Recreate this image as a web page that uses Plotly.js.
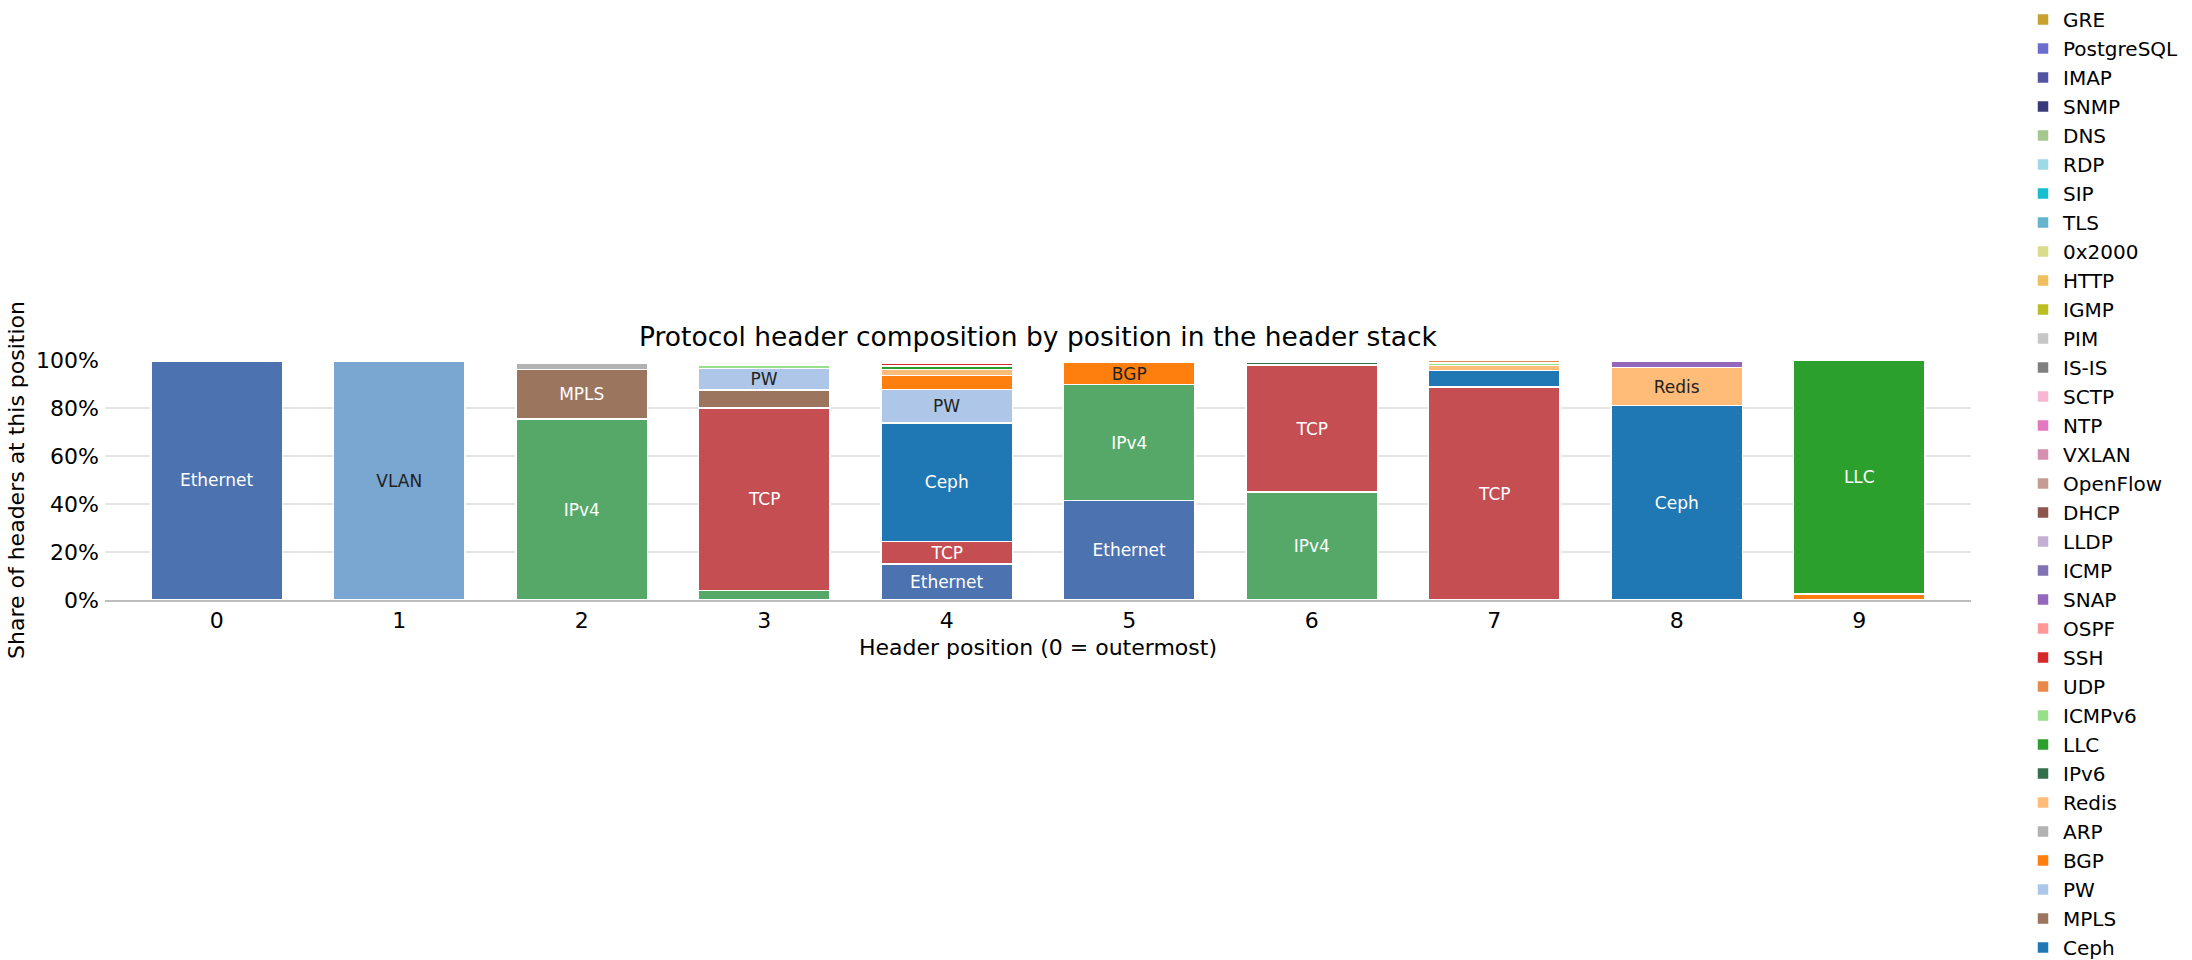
<!DOCTYPE html>
<html>
<head>
<meta charset="utf-8">
<script src="https://cdn.plot.ly/plotly-3.0.1.min.js"></script>
<style>
  html, body { margin: 0; padding: 0; background: #ffffff; }
  #chart { width: 2192px; height: 960px; }
</style>
</head>
<body>
<div id="chart"></div>
<script>
// Header positions (0 = outermost)
const positions = [0, 1, 2, 3, 4, 5, 6, 7, 8, 9];
const shareTicks = [0, 20, 40, 60, 80, 100];
const shareTickText = ['0%', '20%', '40%', '60%', '80%', '100%'];

// Share (%) of headers at each position, per protocol (stack order, bottom first)
const ethernet   = [99.6, 0, 0, 0, 15.0, 41.4, 0, 0, 0, 0];
const vlan       = [0, 99.3, 0, 0, 0, 0, 0, 0, 0, 0];
const ipv4       = [0, 0, 75.4, 3.9, 0, 48.3, 44.9, 0, 0, 0];
const tcp        = [0, 0, 0, 76.2, 9.3, 0, 53.0, 88.75, 0, 0];
const ceph       = [0, 0, 0, 0, 49.45, 0, 0, 6.95, 81.1, 0];
const mpls       = [0, 0, 20.6, 7.4, 0, 0, 0, 0, 0, 0];
const pw         = [0, 0, 0, 9.0, 14.05, 0, 0, 0, 0, 0];
const bgp        = [0, 0, 0, 0, 5.7, 9.3, 0, 0, 0, 2.4];
const arp        = [0, 0, 2.5, 0, 0, 0, 0, 0, 0, 0];
const redis      = [0, 0, 0, 0, 2.5, 0.4, 0, 2.1, 15.7, 0];
const ipv6       = [0, 0, 0.7, 0, 0, 0, 1.1, 0, 0, 0];
const llc        = [0, 0, 0, 0, 1.4, 0, 0, 0, 0, 97.3];
const icmpv6     = [0, 0, 0, 1.4, 0, 0, 0, 0.95, 0, 0];
const udp        = [0, 0, 0, 0, 0, 0, 0, 0.95, 0, 0];
const ssh        = [0, 0, 0, 0, 1.35, 0, 0, 0, 0, 0];
const ospf       = [0, 0, 0, 0.85, 0, 0, 0, 0, 0, 0];
const snap       = [0, 0, 0, 0, 0, 0, 0, 0, 2.7, 0];
const icmp       = [0, 0, 0, 0, 0, 0, 0, 0, 0, 0];
const lldp       = [0, 0, 0, 0, 0, 0, 0, 0, 0, 0];
const dhcp       = [0, 0, 0, 0, 0, 0, 0, 0, 0, 0];
const openflow   = [0, 0, 0, 0, 0, 0, 0, 0, 0, 0];
const vxlan      = [0, 0, 0, 0, 0, 0, 0, 0, 0, 0];
const ntp        = [0, 0, 0, 0, 0, 0, 0, 0, 0, 0];
const sctp       = [0, 0, 0, 0, 0, 0, 0, 0, 0, 0];
const isis       = [0, 0, 0, 0, 0, 0, 0, 0, 0, 0];
const pim        = [0, 0, 0, 0, 0, 0, 0, 0, 0, 0];
const igmp       = [0, 0, 0, 0, 0, 0, 0, 0, 0, 0];
const http       = [0, 0, 0, 0, 0, 0, 0, 0, 0, 0];
const x2000      = [0, 0, 0, 0, 0, 0, 0, 0, 0, 0];
const tls        = [0, 0, 0, 0, 0, 0, 0, 0, 0, 0];
const sip        = [0, 0, 0, 0, 0, 0, 0, 0, 0, 0];
const rdp        = [0, 0, 0, 0, 0, 0, 0, 0, 0, 0];
const dns        = [0, 0, 0, 0, 0, 0, 0, 0, 0, 0];
const snmp       = [0, 0, 0, 0, 0, 0, 0, 0, 0, 0];
const imap       = [0, 0, 0, 0, 0, 0, 0, 0, 0, 0];
const postgresql = [0, 0, 0, 0, 0, 0, 0, 0, 0, 0];
const gre        = [0, 0, 0, 0, 0, 0, 0, 0, 0, 0];

const protocols = [
    ['Ethernet', ethernet], ['VLAN', vlan], ['IPv4', ipv4], ['TCP', tcp],
    ['Ceph', ceph], ['MPLS', mpls], ['PW', pw], ['BGP', bgp], ['ARP', arp],
    ['Redis', redis], ['IPv6', ipv6], ['LLC', llc], ['ICMPv6', icmpv6],
    ['UDP', udp], ['SSH', ssh], ['OSPF', ospf], ['SNAP', snap], ['ICMP', icmp],
    ['LLDP', lldp], ['DHCP', dhcp], ['OpenFlow', openflow], ['VXLAN', vxlan],
    ['NTP', ntp], ['SCTP', sctp], ['IS-IS', isis], ['PIM', pim], ['IGMP', igmp],
    ['HTTP', http], ['0x2000', x2000], ['TLS', tls], ['SIP', sip], ['RDP', rdp],
    ['DNS', dns], ['SNMP', snmp], ['IMAP', imap], ['PostgreSQL', postgresql],
    ['GRE', gre]
];

// Colours per protocol
const colors = {
    'Ethernet': '#4c72b0', 'VLAN': '#7aa6d2', 'IPv4': '#55a868', 'TCP': '#c44e52',
    'Ceph': '#1f77b4', 'MPLS': '#9c755f', 'PW': '#aec7e8', 'BGP': '#ff7f0e',
    'ARP': '#b2b2b2', 'Redis': '#ffbb78', 'IPv6': '#32704b', 'LLC': '#2ca02c',
    'ICMPv6': '#98df8a', 'UDP': '#e8894a', 'SSH': '#d62728', 'OSPF': '#ff9896',
    'SNAP': '#9467bd', 'ICMP': '#8172b2', 'LLDP': '#c5b0d5', 'DHCP': '#8c564b',
    'OpenFlow': '#c49c94', 'VXLAN': '#d48fb1', 'NTP': '#e377c2', 'SCTP': '#f7b6d2',
    'IS-IS': '#7f7f7f', 'PIM': '#c7c7c7', 'IGMP': '#bcbd22', 'HTTP': '#efbf5f',
    '0x2000': '#dbdb8d', 'TLS': '#65b3cd', 'SIP': '#17becf', 'RDP': '#9edae5',
    'DNS': '#a5c88f', 'SNMP': '#393b79', 'IMAP': '#5254a3', 'PostgreSQL': '#6b6ecf',
    'GRE': '#c9a130'
};

// Entries that fall below the bottom of the figure in the legend
const offLegend = ['TCP', 'IPv4', 'VLAN', 'Ethernet'];

const FONT = '"DejaVu Sans", Verdana, sans-serif';
const LABEL_MIN = 8; // segments at least this big get a label

function labelColor(hex) {
    const r = parseInt(hex.slice(1, 3), 16);
    const g = parseInt(hex.slice(3, 5), 16);
    const b = parseInt(hex.slice(5, 7), 16);
    return (0.299 * r + 0.587 * g + 0.114 * b) > 145 ? '#222222' : '#ffffff';
}

const traces = protocols.map(([name, values]) => ({
    type: 'bar',
    name: name,
    x: positions,
    y: values.map(v => (v > 0 ? v : null)),
    marker: { color: colors[name], line: { color: '#ffffff', width: 1.5 } },
    text: values.map(v => (v >= LABEL_MIN ? name : '')),
    textposition: 'inside',
    insidetextanchor: 'middle',
    textangle: 0,
    insidetextfont: { family: FONT, size: 17, color: labelColor(colors[name]) },
    showlegend: !offLegend.includes(name),
    hoverinfo: 'skip'
}));

const layout = {
    width: 2192,
    height: 960,
    paper_bgcolor: '#ffffff',
    plot_bgcolor: '#ffffff',
    font: { family: FONT, color: '#000000' },
    barmode: 'stack',
    bargap: 0.28,
    margin: { l: 105, r: 221, t: 360, b: 360, pad: 0 },
    uniformtext: { mode: 'show', minsize: 17 },
    title: {
        text: 'Protocol header composition by position in the header stack',
        font: { family: FONT, size: 26.5, color: '#000000' },
        x: 0.5, xref: 'paper', xanchor: 'center',
        y: 1 - 337 / 960, yref: 'container', yanchor: 'middle'
    },
    xaxis: {
        range: [-0.612, 9.612],
        tickmode: 'array',
        tickvals: positions,
        ticks: '',
        tickfont: { family: FONT, size: 22, color: '#000000' },
        showgrid: false, zeroline: false,
        showline: true, linecolor: '#bdbdbd', linewidth: 2,
        title: {
            text: 'Header position (0 = outermost)',
            font: { family: FONT, size: 22, color: '#000000' },
            standoff: 7
        },
        fixedrange: true
    },
    yaxis: {
        range: [0, 100],
        tickmode: 'array',
        tickvals: shareTicks,
        ticktext: shareTickText,
        ticks: '',
        ticklabelstandoff: 5,
        tickfont: { family: FONT, size: 22, color: '#000000' },
        showgrid: true, gridcolor: '#e5e5e5', gridwidth: 2,
        zeroline: false, showline: false,
        title: {
            text: 'Share of headers at this position',
            font: { family: FONT, size: 22, color: '#000000' },
            standoff: 5
        },
        fixedrange: true
    },
    legend: {
        traceorder: 'reversed',
        font: { family: FONT, size: 20, color: '#000000' },
        xref: 'container', yref: 'paper',
        x: 2023 / 2192, xanchor: 'left',
        y: 2.523, yanchor: 'top',
        maxheight: 960,
        bgcolor: 'rgba(0,0,0,0)', borderwidth: 0
    },
    hovermode: false
};

Plotly.newPlot('chart', traces, layout, { displayModeBar: false, staticPlot: true });
</script>
</body>
</html>
